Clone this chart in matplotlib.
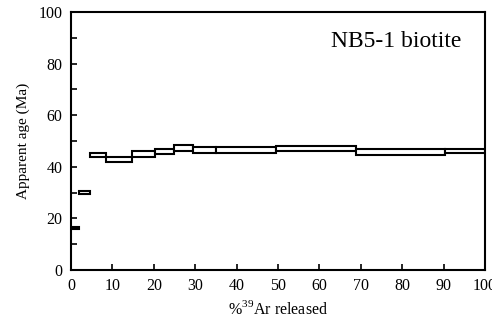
import numpy as np
import matplotlib
matplotlib.use("Agg")
import matplotlib.pyplot as plt
from matplotlib.patches import Rectangle

plt.rcParams['font.family'] = ['Liberation Serif', 'DejaVu Serif']
plt.rcParams['mathtext.fontset'] = 'custom'
plt.rcParams['mathtext.rm'] = 'Liberation Serif'

# cumulative %39Ar boundaries of each heating step
cum_ar = [0, 2.0, 4.5, 8.5, 14.7, 20.4, 24.9, 29.5, 35.1, 49.6, 68.8, 90.3, 100]
# apparent age (Ma) and half-height of each box
age = [16.2, 30.0, 44.5, 42.7, 45.0, 46.0, 47.2, 46.5, 46.5, 47.0, 45.6, 46.1]
err = [0.3, 0.5, 0.7, 1.0, 1.1, 1.0, 1.1, 1.1, 1.2, 0.9, 1.2, 0.9]

sample = "NB5-1 biotite"

fig = plt.figure(figsize=(4.92, 3.28), dpi=100)
ax = fig.add_axes([0.1443, 0.1768, 0.8415, 0.7866])

for i in range(len(age)):
    x0, x1 = cum_ar[i], cum_ar[i + 1]
    ax.add_patch(Rectangle((x0, age[i] - err[i]), x1 - x0, 2 * err[i],
                           facecolor='white', edgecolor='black', lw=1.5))

ax.set_xlim(0, 100)
ax.set_ylim(0, 100)
ax.set_xticks(np.arange(0, 101, 10))
ax.set_yticks(np.arange(0, 101, 20))
ax.set_yticks(np.arange(0, 101, 10), minor=True)
ax.tick_params(direction='in', length=4, width=1.2, labelsize=11.5,
               top=False, right=False)
ax.tick_params(axis='y', which='minor', direction='in', length=4, width=1.2)
ax.tick_params(axis='y', pad=6)
ax.tick_params(axis='x', pad=6)
for s in ax.spines.values():
    s.set_linewidth(1.5)

ax.set_xlabel(r'%$^{39}$Ar released', fontsize=11.5, labelpad=4)
ax.set_ylabel('Apparent age (Ma)', fontsize=11, labelpad=6)

ax.text(0.944, 0.864, sample, transform=ax.transAxes, ha='right',
        va='baseline', fontsize=17)

fig.savefig('out.png', dpi=100)
